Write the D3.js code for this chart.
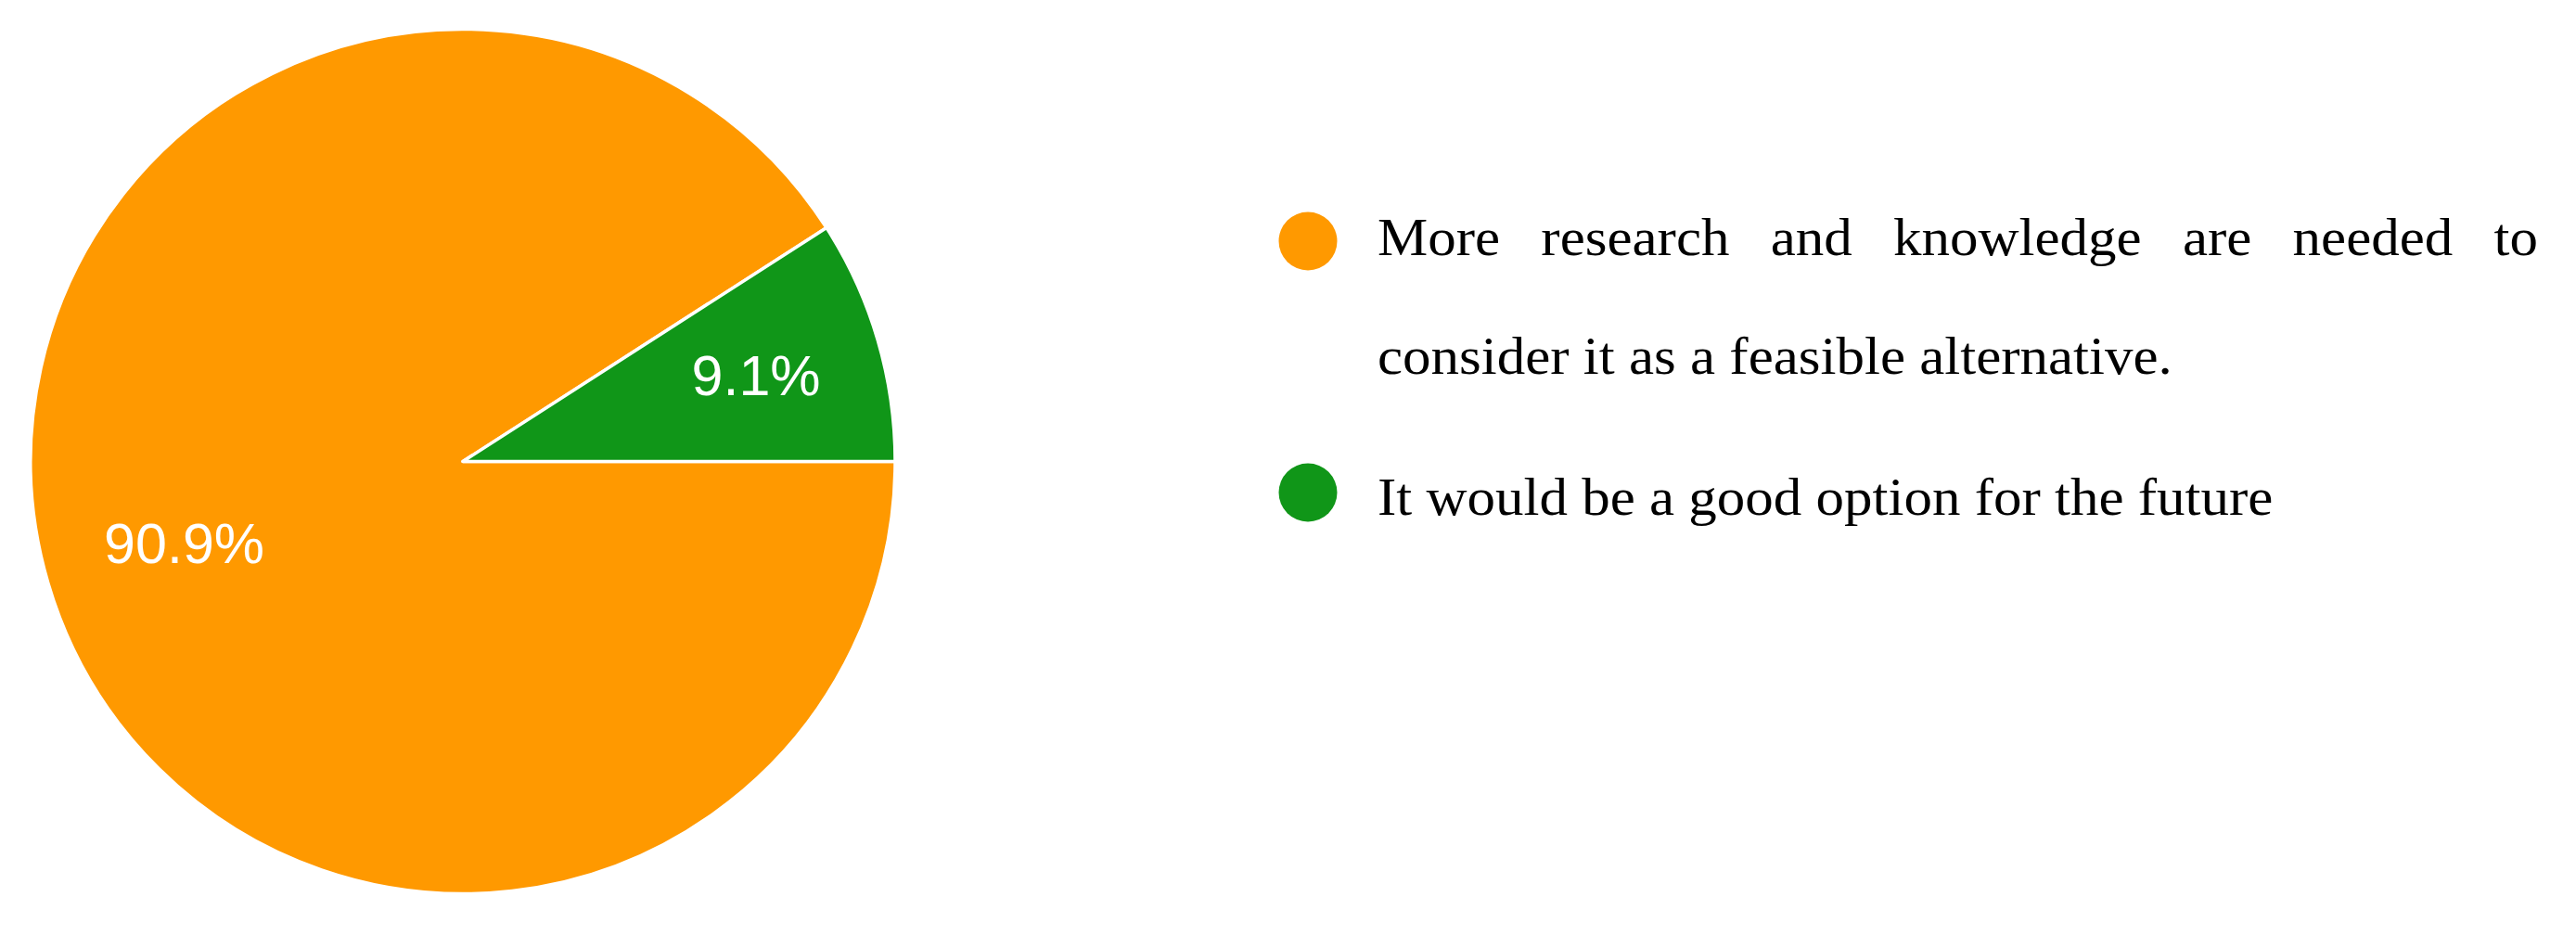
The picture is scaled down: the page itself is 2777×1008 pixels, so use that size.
<!DOCTYPE html>
<html>
<head>
<meta charset="utf-8">
<script src="https://cdnjs.cloudflare.com/ajax/libs/d3/7.8.5/d3.min.js"></script>
<style>
  body { margin: 0; background: #fff; }
  svg { display: block; }
</style>
</head>
<body>
<svg id="chart"></svg>
<script>
// survey answers (11 respondents)
var categories = [
  "More research and knowledge are needed to consider it as a feasible alternative.",
  "It would be a good option for the future"
];
var responses = [10, 1];
var colors = ["#ff9900", "#109618"];

var width = 2777, height = 1008;
var cx = 499, cy = 497.5, radius = 466;

var svg = d3.select("#chart")
    .attr("width", width)
    .attr("height", height);

var total = d3.sum(responses);
var format = d3.format(".1%");

var data = categories.map(function(c, i) {
  return { name: c, value: responses[i], color: colors[i] };
});

// first slice starts at 3 o'clock, going clockwise
var pie = d3.pie()
    .sort(null)
    .value(function(d) { return d.value; })
    .startAngle(Math.PI / 2)
    .endAngle(Math.PI / 2 + 2 * Math.PI);

var arc = d3.arc().innerRadius(0).outerRadius(radius);
var rim = d3.arc().innerRadius(radius).outerRadius(radius);

var g = svg.append("g").attr("transform", "translate(" + cx + "," + cy + ")");

var slices = g.selectAll("path")
    .data(pie(data))
    .enter().append("path")
      .attr("d", arc)
      .attr("fill", function(d) { return d.data.color; })
      .attr("stroke", "#fff")
      .attr("stroke-width", 3.5)
      .attr("stroke-linejoin", "round");

var labels = g.selectAll("text.vs-pct")
    .data(pie(data))
    .enter().append("text")
      .attr("class", "vs-pct")
      .attr("text-anchor", "middle")
      .attr("dy", "0.35em")
      .style("font-family", "'Liberation Sans', Arial, sans-serif")
      .style("font-size", "61px")
      .attr("fill", "#fff")
      .text(function(d) { return format(d.data.value / total); });

// push the label inward so its box stays inside the slice
labels.each(function(d) {
  var p = rim.centroid(d);
  var ux = p[0] / radius, uy = p[1] / radius;
  var w = this.getComputedTextLength();
  var dist = radius * 0.85 - (w / 2) * Math.abs(ux);
  d3.select(this)
    .attr("x", ux * dist)
    .attr("y", uy * dist);
});

// Legend
var legendX = 1410, textX = 1485, textRight = 2736;
var legendBaselines = [275, 555];
var lineGap = 128;
var sx = 1.07; // stretch serif glyphs a bit (Palatino is wider than Times)
var maxW = (textRight - textX) / sx;

var legend = svg.append("g").attr("class", "vs-legend");

data.forEach(function(d, i) {
  var base = legendBaselines[i];

  legend.append("circle")
    .attr("cx", legendX)
    .attr("cy", base - 15 - (i === 1 ? 9 : 0))
    .attr("r", 31.5)
    .attr("fill", d.color);

  var block = legend.append("g")
    .attr("transform", "translate(" + textX + "," + 0 + ") scale(" + sx + ",1)");

  var txt = block.append("text")
    .style("font-family", "'Palatino Linotype', Palatino, 'Book Antiqua', 'Liberation Serif', serif")
    .style("font-size", "57px")
    .attr("fill", "#000");

  // measure words
  var words = d.name.split(" ");
  var probe = txt.append("tspan").text(" ");
  var spaceW = probe.node().getComputedTextLength();
  probe.text("a a");
  var aa = probe.node().getComputedTextLength();
  probe.text("aa");
  spaceW = aa - probe.node().getComputedTextLength();
  var widths = words.map(function(w) {
    probe.text(w);
    return probe.node().getComputedTextLength();
  });
  probe.remove();

  // greedy wrap
  var lines = [], cur = [], curW = 0;
  words.forEach(function(w, k) {
    var add = cur.length ? spaceW + widths[k] : widths[k];
    if (cur.length && curW + add > maxW) {
      lines.push({ idx: cur, w: curW });
      cur = [k]; curW = widths[k];
    } else {
      cur.push(k); curW += add;
    }
  });
  lines.push({ idx: cur, w: curW, last: true });

  lines.forEach(function(line, li) {
    var gap = spaceW;
    if (!line.last && line.idx.length > 1) {
      var wordsW = d3.sum(line.idx, function(k) { return widths[k]; });
      gap = (maxW - wordsW) / (line.idx.length - 1);
    }
    var x = 0;
    line.idx.forEach(function(k) {
      txt.append("tspan")
        .attr("x", x)
        .attr("y", base + li * lineGap)
        .text(words[k]);
      x += widths[k] + gap;
    });
  });
});
</script>
</body>
</html>
